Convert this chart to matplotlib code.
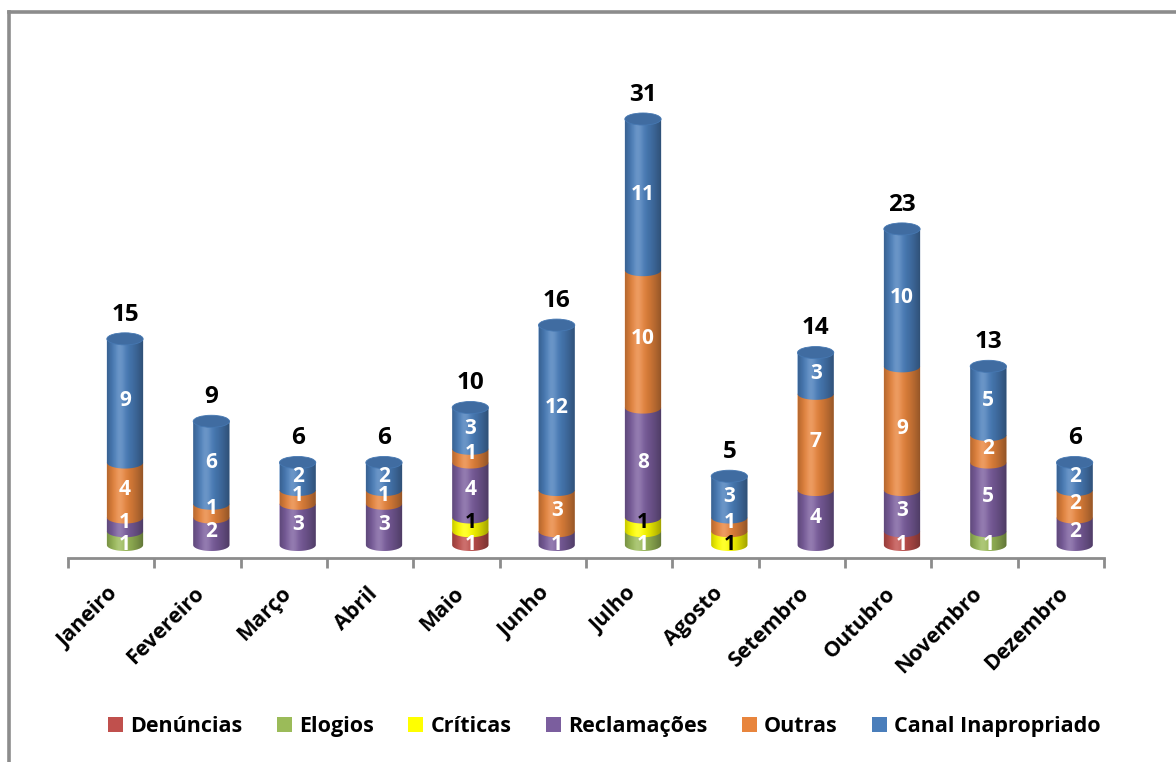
import numpy as np
import matplotlib
matplotlib.use('Agg')
import matplotlib.pyplot as plt
from matplotlib.patches import Polygon, Ellipse, Patch
from matplotlib.lines import Line2D
from matplotlib.colors import to_rgb
import matplotlib.transforms as mtransforms

plt.rcParams['font.family'] = ['Open Sans', 'DejaVu Sans']

# ---------- dados ----------
meses = ['Janeiro', 'Fevereiro', 'Março', 'Abril', 'Maio', 'Junho', 'Julho',
         'Agosto', 'Setembro', 'Outubro', 'Novembro', 'Dezembro']
series = ['Denúncias', 'Elogios', 'Críticas', 'Reclamações', 'Outras', 'Canal Inapropriado']
denuncias = [0, 0, 0, 0, 1, 0, 0, 0, 0, 1, 0, 0]
elogios = [1, 0, 0, 0, 0, 0, 1, 0, 0, 0, 1, 0]
criticas = [0, 0, 0, 0, 1, 0, 1, 1, 0, 0, 0, 0]
reclamacoes = [1, 2, 3, 3, 4, 1, 8, 0, 4, 3, 5, 2]
outras = [4, 1, 1, 1, 1, 3, 10, 1, 7, 9, 2, 2]
canal = [9, 6, 2, 2, 3, 12, 11, 3, 3, 10, 5, 2]

valores = [denuncias, elogios, criticas, reclamacoes, outras, canal]
cores = ['#C0504D', '#9BBB59', '#FFFF00', '#7B5E9E', '#E8853D', '#4A7EBB']
cor_texto = ['white', 'white', 'black', 'white', 'white', 'white']

# ---------- figura ----------
W, H = 1176, 762
fig = plt.figure(figsize=(W / 100, H / 100), dpi=100)
fig.patch.set_facecolor('white')

y_min, y_max = -0.95, 34
ax_bottom_px, ax_top_px = 558, 77.8
ax = fig.add_axes([68 / W, (H - ax_bottom_px) / H, 1036 / W, (ax_bottom_px - ax_top_px) / H])

# moldura
fig.add_artist(Line2D([8.5 / W, 8.5 / W], [0, (H - 11.5) / H], transform=fig.transFigure,
                      color='#8C8C8C', lw=2.6))
fig.add_artist(Line2D([8.5 / W, 1], [(H - 11.5) / H, (H - 11.5) / H], transform=fig.transFigure,
                      color='#8C8C8C', lw=2.6))

hw = 0.21      # meia largura do cilindro (unidades x)
eh = 0.44      # semi-eixo vertical da elipse (unidades y)
desloc = 0.16  # deslocamento 3D para a direita

t = np.linspace(np.pi, 2 * np.pi, 40)


def segmento(c, y0, y1):
    xs = list(c + hw * np.cos(t)) + [c + hw, c - hw]
    ys = list(y0 + eh * np.sin(t)) + [y1, y1]
    return np.column_stack([xs, ys])


# sombreamento cilíndrico
n = 64
u = np.linspace(0, 1, n)
alpha = np.where(u < 0.35, 0.22 * ((0.35 - u) / 0.35) ** 2, 0.38 * ((u - 0.35) / 0.65) ** 1.6)
grad = np.zeros((1, n, 4))
grad[0, :, 3] = alpha
luz = np.zeros((1, n, 4))
luz[0, :, :3] = 1
luz[0, :, 3] = 0.18 * np.exp(-((u - 0.35) / 0.15) ** 2)

totais = np.sum(valores, axis=0)

for i in range(len(meses)):
    c = i + desloc
    base = 0
    for s, vals in enumerate(valores):
        v = vals[i]
        if v == 0:
            continue
        ax.add_patch(Polygon(segmento(c, base, base + v), closed=True, facecolor=cores[s],
                             edgecolor='none', zorder=2))
        base += v
    total = totais[i]
    clip = Polygon(segmento(c, 0, total), closed=True, facecolor='none', edgecolor='none',
                   transform=ax.transData)
    for img in (grad, luz):
        im = ax.imshow(img, extent=[c - hw, c + hw, -eh, total], aspect='auto',
                       interpolation='bilinear', zorder=3)
        im.set_clip_path(clip)
    # tampa
    topo = [s for s in range(len(valores)) if valores[s][i] > 0][-1]
    r, g, b = to_rgb(cores[topo])
    ax.add_patch(Ellipse((c, total), 2 * hw, 2 * eh, facecolor=(r * 0.86, g * 0.86, b * 0.86),
                         edgecolor=(r * 0.95, g * 0.95, b * 0.95), lw=0.6, zorder=4))

    # rótulos dos segmentos
    base = 0
    for s, vals in enumerate(valores):
        v = vals[i]
        if v == 0:
            continue
        yl = base + v / 2
        if v == 1 and base == 0:
            yl -= 0.45
        elif v == 1:
            yl += 0.12
        ax.text(c, yl, str(v), ha='center', va='center', color=cor_texto[s],
                fontsize=15, fontweight='bold', zorder=6)
        base += v
    ax.annotate(str(total), (c, total + eh), xytext=(0, 4.5), textcoords='offset points',
                ha='center', va='bottom', fontsize=17.5, fontweight='bold', zorder=6)

# eixos
ax.set_xlim(-0.5, len(meses) - 0.5)
ax.set_ylim(y_min, y_max)
for lado in ['top', 'right', 'left']:
    ax.spines[lado].set_visible(False)
ax.spines['bottom'].set_color('#8C8C8C')
ax.spines['bottom'].set_linewidth(2)
ax.set_yticks([])
ax.set_xticks(np.arange(-0.5, len(meses)), minor=False)
ax.set_xticklabels([])
ax.tick_params(axis='x', direction='out', length=7, width=2, color='#8C8C8C')

trans = mtransforms.blended_transform_factory(ax.transData, ax.transAxes)
for i, m in enumerate(meses):
    ax.text(i - 0.04, -0.052, m, transform=trans, rotation=45, rotation_mode='anchor',
            ha='right', va='top', fontsize=15.5, fontweight='bold')

# legenda
handles = [Patch(facecolor=c, edgecolor='none') for c in cores]
fig.legend(handles, series, loc='center', bbox_to_anchor=(0.514, 0.046), ncol=6, frameon=False,
           handlelength=0.7, handleheight=0.7, handletextpad=0.33, columnspacing=1.6,
           prop={'weight': 'bold', 'size': 15.5})

fig.savefig('out.png', dpi=100, facecolor='white')
